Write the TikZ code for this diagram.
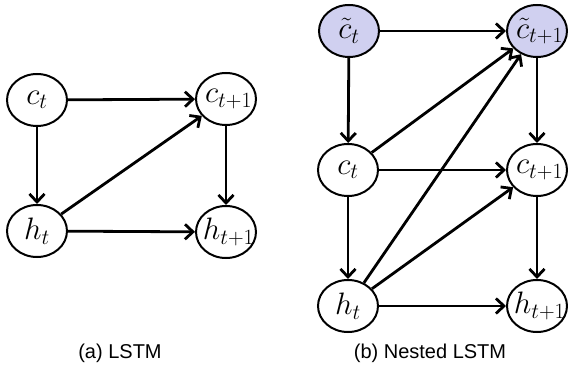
\RequirePackage{fix-cm}
\documentclass[tikz,border=0pt]{standalone}
\usepackage{amsmath}
\usepackage{fontspec}
\newfontfamily\capfont{Liberation Sans}
\usetikzlibrary{arrows.meta, shapes.geometric}

\definecolor{cellblue}{RGB}{208,208,240}

\tikzset{
  state/.style={draw, ellipse, line width=2pt, minimum width=60pt, minimum height=52pt,
    inner sep=0pt, font=\fontsize{31}{33}\selectfont},
  inner/.style={state, fill=cellblue},
  flow/.style={line width=2.8pt, -{Straight Barb[length=8pt,width=15pt,line width=2.8pt]}},
  caption/.style={font=\capfont\fontsize{20}{22}\selectfont}
}

\newcommand{\lbl}[1]{\makebox[0pt]{$#1$}}

\begin{document}
\begin{tikzpicture}[x=1pt, y=-1pt]
  \useasboundingbox (0,0) rectangle (568,374);

  % (a) LSTM
  \node[state] (act)  at (37,100)  {\lbl{c_t}};
  \node[state] (act1) at (226,99)  {\lbl{\,c_{t+1}}};
  \node[state] (aht)  at (37,231)  {\lbl{h_t}};
  \node[state] (aht1) at (226,232) {\lbl{\,h_{t+1}}};

  \draw[flow] (act) -- (act1);
  \draw[flow] (act) -- (aht);
  \draw[flow] (aht) -- (act1);
  \draw[flow] (aht) -- (aht1);
  \draw[flow] (act1) -- (aht1);

  % (b) Nested LSTM
  \node[inner] (bnt)  at (349,31)  {\lbl{\tilde{c}_t}};
  \node[inner] (bnt1) at (537,31)  {\lbl{\,\tilde{c}_{t+1}}};
  \node[state] (bct)  at (348,170) {\lbl{c_t}};
  \node[state] (bct1) at (537,170) {\lbl{\,c_{t+1}}};
  \node[state] (bht)  at (348,306) {\lbl{h_t}};
  \node[state] (bht1) at (537,306) {\lbl{\,h_{t+1}}};

  % horizontal and vertical steps
  \foreach \a/\b in {bnt/bnt1, bct/bct1, bht/bht1, bnt/bct, bct/bht, bnt1/bct1, bct1/bht1}
    \draw[flow] (\a) -- (\b);

  % diagonals
  \foreach \a/\b in {bct/bnt1, bht/bnt1, bht/bct1}
    \draw[flow] (\a) -- (\b);

  \node[caption] (capa) at (120,353) {(a) LSTM};
  \node[caption] (capb) at (430,353) {(b) Nested LSTM};
\end{tikzpicture}
\end{document}
